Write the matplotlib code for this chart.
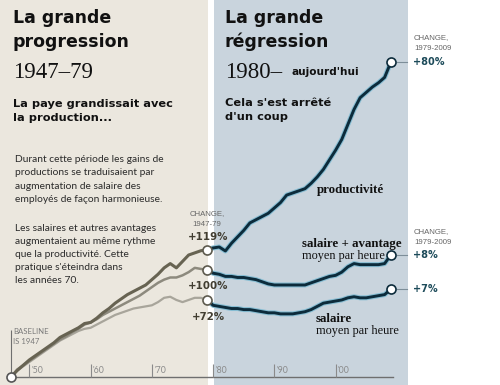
import matplotlib
matplotlib.use("Agg")
import matplotlib.pyplot as plt
import matplotlib.patheffects as pe
import numpy as np

# ---------------- data (% change since 1947) ----------------
years_early = list(range(1947, 1980))
prod_early = [0, 6, 11, 16, 20, 24, 28, 32, 37, 40, 43, 46, 50, 51, 55, 60, 64,
              69, 73, 77, 80, 83, 86, 91, 96, 102, 106, 102, 108, 114, 116, 118, 119]
comp_early = [0, 7, 11, 15, 19, 23, 27, 31, 35, 38, 42, 45, 49, 51, 54, 58, 61,
              64, 67, 70, 73, 76, 80, 84, 88, 91, 93, 93, 95, 98, 102, 101, 100]
wage_early = [0, 6, 10, 14, 18, 22, 26, 30, 34, 37, 40, 43, 45, 46, 49, 52, 55,
              58, 60, 62, 64, 65, 66, 67, 70, 74, 75, 72, 70, 72, 74, 74, 72]

years_late = list(range(1979, 2010))
prod_late = [119, 120.6, 121.5, 117.8, 125, 131, 137, 144, 147, 150, 153, 158, 163,
             170, 172, 174, 176, 181, 187, 194, 203, 212, 222, 236, 250, 261, 266,
             271, 275, 280, 294]
comp_late = [100, 97, 96, 94, 94, 93, 93, 92, 91, 89, 87, 86, 86, 86, 86, 86, 86,
             88, 90, 92, 94, 95, 98, 103, 106, 105, 105, 105, 105, 106, 114]
wage_late = [72, 67, 66, 65, 64, 64, 63, 63, 62, 61, 60, 60, 59, 59, 59, 60, 61, 63,
             66, 69, 70, 71, 72, 74, 75, 74, 74, 75, 76, 77, 82]

tick_years = [1950, 1960, 1970, 1980, 1990, 2000]
tick_labels = ["'50", "'60", "'70", "'80", "'90", "'00"]

change_early = ["+119%", "+100%", "+72%"]
change_late = ["+80%", "+8%", "+7%"]

# ---------------- figure ----------------
W, H = 500, 385
fig = plt.figure(figsize=(W / 100, H / 100), dpi=100)
fig.patch.set_facecolor("white")


def P(x, y):
    return (x / W, 1 - y / H)


# panel backgrounds
BEIGE = "#ebe7de"
BLUE = "#c9d4dd"
fig.patches.append(plt.Rectangle(P(0, 385), 208 / W, 1, transform=fig.transFigure,
                                 facecolor=BEIGE, edgecolor="none", zorder=-10))
fig.patches.append(plt.Rectangle(P(214, 385), (408 - 214) / W, 1, transform=fig.transFigure,
                                 facecolor=BLUE, edgecolor="none", zorder=-10))

ax = fig.add_axes([0, 0, 1, 1])
ax.set_zorder(5)
ax.patch.set_visible(False)
ax.set_xlim(1947 - 11 / 6.125, 1947 + (W - 11) / 6.125)
ax.set_ylim((377 - 385) / 1.07, 377 / 1.07)
ax.axis("off")

# axis line and ticks
ax.plot([1947, 2009.3], [0, 0], color="#6f6f6f", lw=1.0, zorder=2)
ax.vlines(tick_years, 0, 12, color="#8a8a8a", lw=0.8, zorder=2)
for ty, tl in zip(tick_years, tick_labels):
    ax.text(ty + 0.35, 1.5, tl, fontsize=6.3, color="#8a8a8a", ha="left", va="bottom",
            family="Lato", zorder=3)

# baseline marker
ax.vlines([1947], 0, 44, color="#6f6f6f", lw=0.8, zorder=2)
fig.text(*P(13, 334), "BASELINE", fontsize=5.6, color="#7a7a7a", family="Lato",
         ha="left", va="baseline")
fig.text(*P(13, 344), "IS 1947", fontsize=5.6, color="#7a7a7a", family="Lato",
         ha="left", va="baseline")

# early lines
c_prod_e, c_comp_e, c_wage_e = "#676352", "#8d8a7e", "#a8a59b"
ax.plot(years_early, wage_early, color=c_wage_e, lw=1.6, zorder=3, solid_joinstyle="round")
ax.plot(years_early, comp_early, color=c_comp_e, lw=1.8, zorder=4, solid_joinstyle="round")
ax.plot(years_early, prod_early, color=c_prod_e, lw=2.2, zorder=5, solid_joinstyle="round")

# late lines
NAVY = "#0c2b3b"
halo = [pe.Stroke(linewidth=3.6, foreground="#86bdd3"), pe.Normal()]
for ys in (prod_late, comp_late, wage_late):
    ax.plot(years_late, ys, color=NAVY, lw=2.1, zorder=6, path_effects=halo,
            solid_joinstyle="round", solid_capstyle="round")

# circles
ax.plot([1947], [0], "o", ms=6.5, mfc="white", mec="#555555", mew=1.2, zorder=8)
for ys in (prod_early, comp_early, wage_early):
    ax.plot([years_early[-1]], [ys[-1]], "o", ms=6.5, mfc="white", mec="#5d5a4e",
            mew=1.2, zorder=8)
for ys in (prod_late, comp_late, wage_late):
    ax.plot([years_late[-1]], [ys[-1]], "o", ms=6.5, mfc="white", mec=NAVY,
            mew=1.2, zorder=8)
    ax.plot([2010.1, 2011.6], [ys[-1], ys[-1]], color="#7d8e99", lw=0.8, zorder=7)

# ---------------- text ----------------
HEAD = dict(family="DejaVu Sans", weight="bold", color="#111111", ha="left", va="baseline")
fig.text(*P(13, 23), "La grande", fontsize=12.5, **HEAD)
fig.text(*P(13, 47), "progression", fontsize=12.5, **HEAD)
fig.text(*P(13, 78), "1947–79", fontsize=16.5, family="Liberation Serif",
         color="#111111", ha="left", va="baseline")
fig.text(*P(225, 23), "La grande", fontsize=12.5, **HEAD)
fig.text(*P(225, 47), "régression", fontsize=12.5, **HEAD)
fig.text(*P(225, 78), "1980–", fontsize=16.5, family="Liberation Serif",
         color="#111111", ha="left", va="baseline")
fig.text(*P(292, 75), "aujourd'hui", fontsize=7.6, **HEAD)

SUB = dict(family="DejaVu Sans", weight="bold", color="#111111", ha="left",
           va="baseline", fontsize=8.2)
fig.text(*P(13, 107), "La paye grandissait avec", **SUB)
fig.text(*P(13, 121), "la production...", **SUB)
fig.text(*P(225, 106), "Cela s'est arrêté", **SUB)
fig.text(*P(225, 120), "d'un coup", **SUB)

para1 = ["Durant cette période les gains de",
         "productions se traduisaient par",
         "augmentation de salaire des",
         "employés de façon harmonieuse."]
para2 = ["Les salaires et autres avantages",
         "augmentaient au même rythme",
         "que la productivité. Cette",
         "pratique s'éteindra dans",
         "les années 70."]
for i, line in enumerate(para1):
    fig.text(*P(15, 162 + i * 13.4), line, fontsize=7.4, family="Lato", color="#2b2b2b",
             ha="left", va="baseline")
for i, line in enumerate(para2):
    fig.text(*P(15, 231 + i * 13), line, fontsize=7.4, family="Lato", color="#2b2b2b",
             ha="left", va="baseline")

# change labels (early)
SMALL = dict(family="Liberation Sans", fontsize=5.6, color="#666666", va="baseline")
fig.text(*P(207, 215), "CHANGE,", ha="center", **SMALL)
fig.text(*P(207, 226), "1947-79", ha="center", **SMALL)
EB = dict(family="DejaVu Sans", weight="bold", fontsize=7.4, color="#413d31",
          ha="center", va="baseline")
fig.text(*P(208, 240), change_early[0], **EB)
fig.text(*P(208, 289), change_early[1], **EB)
fig.text(*P(208, 320), change_early[2], **EB)

# change labels (late)
fig.text(*P(414, 39), "CHANGE,", ha="left", **SMALL)
fig.text(*P(414, 50), "1979-2009", ha="left", **SMALL)
fig.text(*P(414, 233), "CHANGE,", ha="left", **SMALL)
fig.text(*P(414, 244), "1979-2009", ha="left", **SMALL)
LB = dict(family="DejaVu Sans", weight="bold", fontsize=7, color="#1d4b5a",
          ha="left", va="baseline")
fig.text(*P(413, 65), change_late[0], **LB)
fig.text(*P(413, 258), change_late[1], **LB)
fig.text(*P(413, 292), change_late[2], **LB)

# series labels
SB = dict(family="Liberation Serif", weight="bold", fontsize=9.3, color="#111111",
          ha="left", va="baseline")
SR = dict(family="Liberation Serif", fontsize=8.8, color="#111111",
          ha="left", va="baseline")
fig.text(*P(317, 193), "productivité", **SB)
fig.text(*P(302, 247), "salaire + avantage", **SB)
fig.text(*P(302, 259), "moyen par heure", **SR)
fig.text(*P(316, 322), "salaire", **SB)
fig.text(*P(316, 334), "moyen par heure", **SR)

fig.savefig("out.png", dpi=100, facecolor="white")
